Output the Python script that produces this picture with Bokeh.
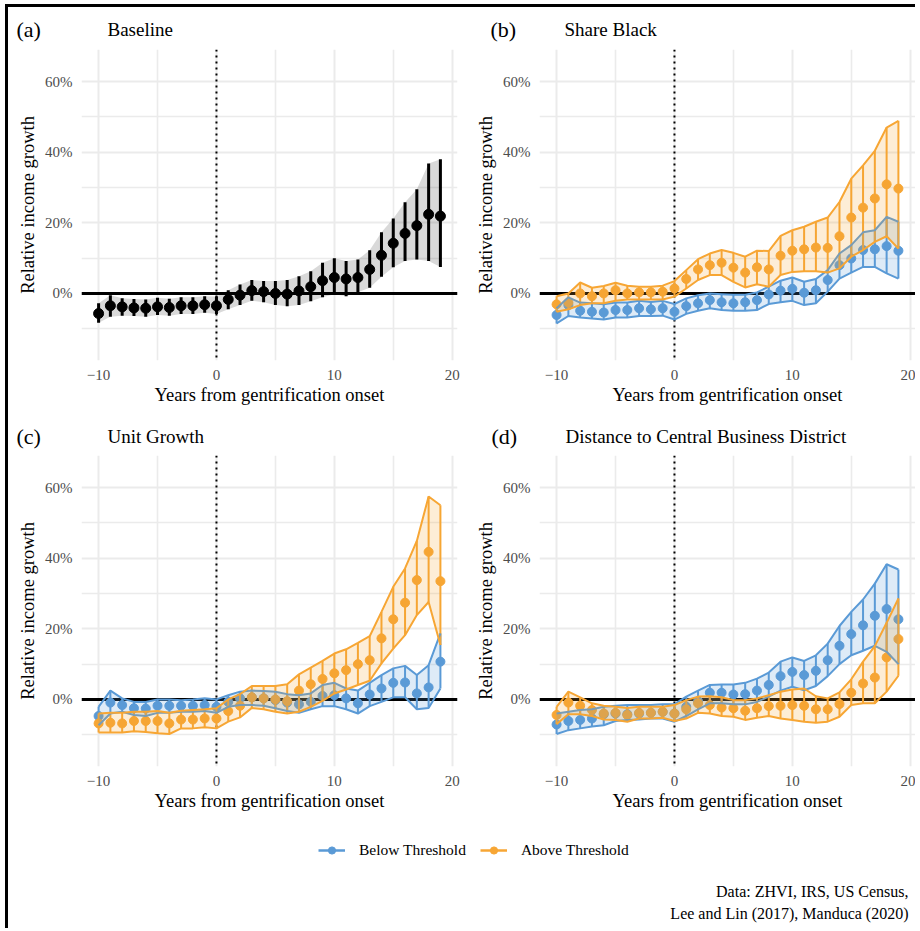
from bokeh.plotting import figure
from bokeh.layouts import column, row
from bokeh.models import (Range1d, Label, Span, FixedTicker, PrintfTickFormatter,
                          ColumnDataSource, Legend, LegendItem)
from bokeh.embed import file_html
from bokeh.resources import INLINE

# ---------------- data (percent) ----------------
years = list(range(-10, 20))

base_est = [-5.7, -3.5, -3.8, -4.1, -4.2, -3.8, -4.0, -3.5, -3.5, -3.2, -3.5, -1.7, -0.5, 0.8, 0.5,
            0.0, -0.2, 0.7, 1.9, 3.6, 4.5, 4.1, 4.5, 6.8, 10.8, 14.2, 17.0, 19.2, 22.4, 21.9]
base_hi = [-2.8, -0.5, -1.4, -1.6, -1.7, -1.2, -1.5, -1.1, -1.1, -0.8, -0.9, 0.9, 2.5, 3.8, 3.5,
           3.5, 3.8, 4.9, 6.3, 8.7, 10.0, 9.2, 9.6, 12.2, 17.3, 21.2, 25.8, 29.5, 36.8, 38.0]
base_lo = [-8.3, -6.6, -6.3, -6.4, -6.6, -6.1, -6.3, -5.8, -5.8, -5.5, -5.8, -4.5, -3.3, -2.1, -2.5,
           -3.3, -3.6, -3.3, -2.2, -1.1, -0.2, -0.8, 0.3, 1.6, 4.7, 7.4, 9.2, 9.6, 9.2, 7.5]

sb_below_est = [-6.1, -3.3, -4.9, -5.2, -5.4, -4.7, -4.7, -4.2, -4.5, -4.2, -5.2, -3.6, -2.8, -1.9, -2.5,
                -2.8, -2.5, -1.9, -0.3, 0.8, 1.3, 0.2, 0.9, 3.8, 8.0, 9.9, 12.3, 12.5, 13.4, 12.1]
sb_below_hi = [-4.2, -1.1, -2.6, -2.8, -3.1, -2.6, -2.6, -2.1, -2.4, -2.1, -3.0, -1.4, -0.5, 0.0, -0.2,
               -0.4, -0.4, 0.3, 1.9, 3.6, 4.5, 3.3, 4.1, 6.6, 11.3, 13.7, 17.3, 17.9, 21.7, 20.3]
sb_below_lo = [-8.5, -6.4, -6.8, -7.1, -7.4, -6.8, -6.8, -6.4, -6.4, -6.3, -7.4, -5.8, -4.9, -4.2, -4.7,
               -4.9, -4.9, -4.7, -3.0, -2.5, -2.1, -3.3, -2.8, 0.5, 4.2, 5.9, 7.5, 7.5, 5.7, 4.2]
sb_above_est = [-3.1, -2.6, 0.0, -0.8, 0.0, 0.9, 0.0, 0.3, 0.3, 0.5, 1.4, 4.1, 6.8, 8.0, 8.7,
                7.3, 5.9, 7.4, 6.8, 10.7, 12.1, 12.5, 13.0, 12.9, 16.2, 21.5, 24.3, 26.9, 30.9, 29.7]
sb_above_hi = [-0.8, 0.0, 3.1, 1.6, 2.1, 3.0, 2.2, 1.9, 1.9, 2.2, 3.5, 6.6, 9.7, 11.3, 12.3,
               11.5, 10.4, 12.1, 12.0, 16.3, 17.9, 18.9, 20.3, 21.5, 25.9, 32.5, 36.3, 40.4, 47.0, 48.9]
sb_above_lo = [-5.2, -4.5, -3.3, -2.8, -2.8, -2.1, -1.7, -1.7, -1.7, -1.7, -0.9, 1.4, 3.8, 5.2, 5.2,
               3.3, 1.7, 2.6, 1.9, 5.2, 6.1, 6.3, 6.3, 5.9, 7.1, 10.4, 12.3, 14.6, 16.2, 12.7]

ug_below_est = [-4.7, -0.9, -1.6, -2.5, -2.6, -1.8, -1.8, -1.8, -1.8, -1.6, -2.1, -0.7, 0.3, 0.6, 0.3,
                -0.2, -0.9, -1.4, -0.7, 1.0, 1.2, 0.3, -1.1, 1.4, 3.1, 4.7, 4.8, 1.7, 3.4, 10.7]
ug_below_hi = [-2.1, 2.5, 0.3, -0.7, -0.7, 0.0, 0.0, -0.2, 0.0, 0.3, 0.0, 1.2, 2.2, 2.5, 2.4,
               2.2, 1.5, 1.2, 1.7, 4.1, 4.7, 3.1, 2.5, 4.7, 6.9, 8.8, 9.5, 6.9, 9.7, 18.7]
ug_below_lo = [-7.3, -4.0, -3.5, -4.4, -4.7, -3.8, -3.8, -3.5, -3.5, -3.3, -3.8, -2.1, -1.6, -1.6, -1.8,
               -2.5, -3.3, -3.8, -2.8, -1.9, -1.9, -2.8, -4.0, -1.9, -0.7, 0.6, 0.6, -2.8, -2.4, 3.1]
ug_above_est = [-6.8, -6.6, -6.8, -6.1, -6.1, -6.1, -6.8, -5.7, -5.7, -5.4, -5.4, -3.3, -1.8, 0.6, 0.3,
                0.0, -0.5, 2.5, 4.3, 5.8, 7.4, 8.3, 10.0, 11.1, 17.3, 22.7, 27.4, 33.8, 41.8, 33.5]
ug_above_hi = [-4.0, -3.8, -3.8, -3.5, -3.5, -3.3, -3.8, -3.2, -3.0, -2.8, -2.5, 0.0, 1.5, 3.8, 3.8,
               3.8, 4.3, 7.1, 9.0, 10.9, 13.0, 14.2, 16.0, 17.9, 24.8, 31.9, 37.1, 44.9, 57.5, 55.0]
ug_above_lo = [-9.4, -9.4, -9.4, -9.0, -9.2, -9.6, -9.8, -8.2, -8.2, -7.9, -8.2, -6.3, -5.1, -2.4, -2.8,
               -3.5, -4.0, -3.5, -2.1, -0.4, 1.7, 2.8, 4.1, 5.3, 10.2, 14.4, 18.2, 23.9, 27.6, 15.4]

cbd_below_est = [-7.1, -6.1, -5.8, -5.4, -4.2, -4.0, -4.2, -4.0, -3.8, -3.5, -4.0, -2.1, -0.5, 1.9, 1.9,
                 1.4, 1.5, 2.5, 4.1, 6.6, 7.8, 6.9, 8.1, 11.1, 15.2, 18.5, 21.0, 23.7, 25.6, 22.7]
cbd_below_hi = [-4.0, -3.5, -3.0, -2.8, -2.1, -1.8, -1.6, -1.6, -1.6, -1.4, -1.3, 0.8, 2.5, 4.1, 4.2,
                4.2, 4.7, 5.9, 7.6, 10.7, 11.9, 10.9, 12.5, 15.8, 20.8, 24.8, 28.3, 32.8, 38.3, 36.8]
cbd_below_lo = [-9.8, -8.7, -8.2, -7.7, -7.3, -6.1, -5.8, -5.7, -5.4, -5.4, -6.3, -4.7, -2.8, -1.1, -1.1,
                -1.4, -1.4, -0.7, 0.8, 2.5, 3.6, 2.6, 3.8, 6.6, 10.0, 12.5, 13.8, 15.2, 13.5, 10.0]
cbd_above_est = [-4.4, -0.9, -1.8, -3.0, -4.0, -3.8, -4.4, -3.8, -3.8, -3.5, -4.0, -2.8, -1.1, -1.6, -2.3,
                 -2.5, -3.2, -2.5, -1.9, -1.8, -1.6, -1.8, -2.8, -2.8, -1.3, 1.9, 4.5, 6.2, 11.9, 17.1]
cbd_above_hi = [-2.1, 2.2, 0.6, -1.1, -1.8, -2.1, -2.4, -2.1, -2.1, -2.1, -1.6, -0.2, 0.8, 0.9, 0.6,
                -0.2, -0.2, 0.3, 1.2, 2.2, 2.8, 3.1, 0.9, 0.3, 2.0, 5.7, 10.7, 15.1, 21.7, 28.6]
cbd_above_lo = [-7.0, -4.2, -4.2, -4.7, -5.7, -5.8, -6.3, -5.4, -5.4, -5.2, -6.1, -5.4, -3.8, -4.0, -4.7,
                -4.9, -5.8, -5.2, -4.7, -5.4, -5.8, -6.3, -6.6, -6.3, -4.9, -1.6, -1.1, -1.1, 2.2, 6.7]

panel_tags = ["(a)", "(b)", "(c)", "(d)"]
panel_titles = ["Baseline", "Share Black", "Unit Growth", "Distance to Central Business District"]
group_labels = ["Below Threshold", "Above Threshold"]
x_ticks = [-10, 0, 10, 20]
x_minor = [-5, 5, 15]
y_ticks = [0, 20, 40, 60]
y_minor = [-10, 10, 30, 50]
caption_lines = ["Data: ZHVI, IRS, US Census,", "Lee and Lin (2017), Manduca (2020)"]

# ---------------- style ----------------
FONT = "Liberation Serif"
BLUE = "#5A9AD6"
ORANGE = "#F7A634"
GRID = "#EBEBEB"


def blank_fig(width, height):
    f = figure(width=width, height=height, x_range=Range1d(0, width), y_range=Range1d(0, height),
               output_backend="svg", toolbar_location=None,
               x_axis_location=None, y_axis_location=None, min_border=0)
    f.outline_line_color = None
    f.grid.visible = False
    return f


def title_strip(idx, width, height, tag_x, title_x, y):
    s = blank_fig(width, height)
    s.add_layout(Label(x=tag_x, y=y, text=panel_tags[idx], text_font=FONT, text_font_size="22px",
                       text_baseline="middle", text_align="left", text_color="black"))
    s.add_layout(Label(x=title_x, y=y, text=panel_titles[idx], text_font=FONT, text_font_size="19px",
                       text_baseline="middle", text_align="left", text_color="black"))
    return s


def make_panel(width, height, bl, br, bb):
    p = figure(width=width, height=height,
               x_range=Range1d(-11.45, 20.45), y_range=Range1d(-19.0, 69.1),
               output_backend="svg", toolbar_location=None,
               min_border_left=bl, min_border_right=br,
               min_border_top=0, min_border_bottom=bb)
    p.outline_line_color = None
    p.background_fill_color = "white"
    xt = FixedTicker(ticks=x_ticks, minor_ticks=x_minor)
    yt = FixedTicker(ticks=y_ticks, minor_ticks=y_minor)
    p.xaxis.ticker = xt
    p.yaxis.ticker = yt
    p.xgrid.ticker = xt
    p.ygrid.ticker = yt
    for g in (p.xgrid, p.ygrid):
        g.grid_line_color = GRID
        g.grid_line_width = 2
        g.minor_grid_line_color = GRID
        g.minor_grid_line_width = 1.6
    p.yaxis.formatter = PrintfTickFormatter(format="%d%%")
    p.xaxis.major_label_overrides = {-10: "\u221210"}
    for ax in (p.xaxis[0], p.yaxis[0]):
        ax.axis_line_color = None
        ax.major_tick_line_color = None
        ax.minor_tick_line_color = None
        ax.major_label_text_font = FONT
        ax.major_label_text_font_size = "15px"
        ax.major_label_text_color = "#4D4D4D"
        ax.major_label_standoff = 5
        ax.axis_label_text_font = FONT
        ax.axis_label_text_font_size = "18.5px"
        ax.axis_label_text_font_style = "normal"
        ax.axis_label_text_color = "black"
    p.xaxis.major_tick_out = 3
    p.yaxis.major_tick_out = 4
    p.xaxis.axis_label = "Years from gentrification onset"
    p.yaxis.axis_label = "Relative income growth"
    p.xaxis.axis_label_standoff = 2
    p.yaxis.axis_label_standoff = 4

    p.add_layout(Span(location=0, dimension="width", line_color="black",
                      line_width=3, level="underlay"))
    p.add_layout(Span(location=0, dimension="height", line_color="black",
                      line_width=2, line_dash="2 4", level="underlay"))
    return p


def add_points(p, est, lo, hi, color, seg_w, size):
    src = ColumnDataSource(dict(x=years, est=est, lo=lo, hi=hi))
    p.segment(x0="x", y0="lo", x1="x", y1="hi", source=src, line_color=color, line_width=seg_w)
    p.scatter(x="x", y="est", source=src, size=size, fill_color=color, line_color=color)


def add_ribbon(p, lo, hi, color, outline):
    src = ColumnDataSource(dict(x=years, lo=lo, hi=hi))
    if outline:
        p.varea(x="x", y1="lo", y2="hi", source=src, fill_color=color, fill_alpha=0.2)
        p.line(x="x", y="lo", source=src, line_color=color, line_width=2)
        p.line(x="x", y="hi", source=src, line_color=color, line_width=2)
    else:
        p.varea(x="x", y1="lo", y2="hi", source=src, fill_color="black", fill_alpha=0.15)


# ---------------- layout geometry ----------------
ta = title_strip(0, 452, 42, 8, 99, 20.5)
tb = title_strip(1, 455, 42, 30, 104, 20.5)
tc = title_strip(2, 452, 41, 8, 99, 19)
td = title_strip(3, 455, 41, 31, 105, 19)

pa = make_panel(452, 365, 73, 3, 54)
pb = make_panel(455, 365, 79, 0, 54)
pc = make_panel(452, 365, 73, 3, 54)
pd = make_panel(455, 365, 79, 0, 54)

# (a) baseline
add_ribbon(pa, base_lo, base_hi, "black", False)
add_points(pa, base_est, base_lo, base_hi, "black", 3, 10)

series = [
    (pb, (sb_below_est, sb_below_lo, sb_below_hi), (sb_above_est, sb_above_lo, sb_above_hi)),
    (pc, (ug_below_est, ug_below_lo, ug_below_hi), (ug_above_est, ug_above_lo, ug_above_hi)),
    (pd, (cbd_below_est, cbd_below_lo, cbd_below_hi), (cbd_above_est, cbd_above_lo, cbd_above_hi)),
]
for p, below, above in series:
    add_points(p, below[0], below[1], below[2], BLUE, 2, 9)
    add_points(p, above[0], above[1], above[2], ORANGE, 2, 9)
    add_ribbon(p, below[1], below[2], BLUE, True)
    add_ribbon(p, above[1], above[2], ORANGE, True)

# ---------------- legend + caption ----------------
pl = blank_fig(907, 108)
items = []
for lab, col in zip(group_labels, [BLUE, ORANGE]):
    # legend-key renderers: a single point kept outside the visible area
    rl = pl.line(x=[-50, -40], y=[-50, -50], line_color=col, line_width=2.5)
    rs = pl.scatter(x=[-45], y=[-50], size=9, fill_color=col, line_color=col)
    items.append(LegendItem(label=lab, renderers=[rl, rs]))
leg = Legend(items=items, orientation="horizontal", location=(310, 69),
             glyph_width=27, glyph_height=18, label_standoff=14, spacing=14,
             padding=0, margin=0, border_line_color=None, background_fill_alpha=0,
             label_text_font=FONT, label_text_font_size="15.5px", label_text_color="black")
pl.add_layout(leg)
for i, line in enumerate(caption_lines):
    pl.add_layout(Label(x=900, y=37 - 22 * i, text=line, text_font=FONT, text_font_size="16px",
                        text_align="right", text_baseline="middle", text_color="black"))

root = column(row(ta, tb), row(pa, pb), row(tc, td), row(pc, pd), pl,
              styles={"margin-left": "5px", "margin-top": "4px",
                      "border-left": "3px solid black", "border-top": "3px solid black"})

with open("out.html", "w") as f:
    f.write(file_html(root, INLINE))
